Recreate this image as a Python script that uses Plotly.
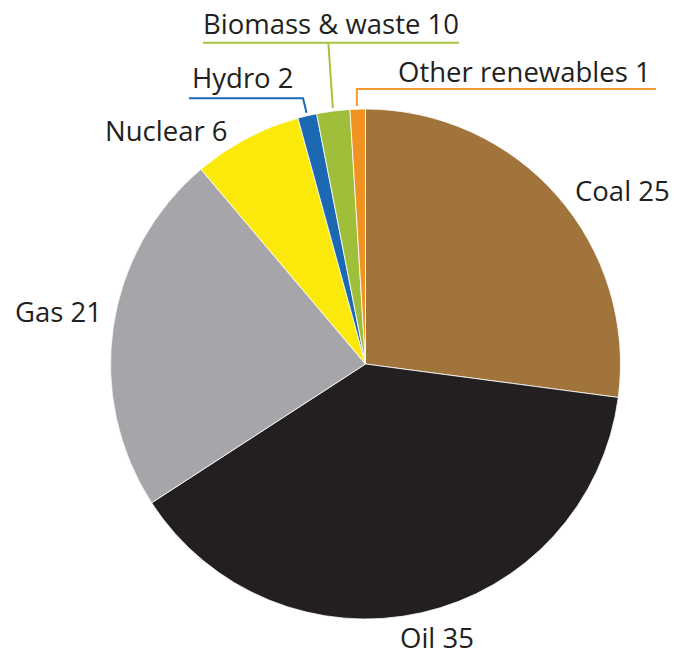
import math
import plotly.graph_objects as go

# ---- data ----
categories = ["Coal", "Oil", "Gas", "Nuclear", "Hydro", "Biomass & waste", "Other renewables"]
label_values = [25, 35, 21, 6, 2, 10, 1]
shares = [27.1, 38.75, 23.0, 6.9, 1.2, 2.1, 0.97]
colors = ["#A1743B", "#231F20", "#A6A5A9", "#FBE90B", "#1C68B2", "#9FBF3B", "#F19322"]
line_colors = ["#A1743B", "#231F20", "#A6A5A9", "#FBE90B", "#1C68B2", "#A3C43E", "#F39A2A"]

W, H = 675, 655
CX, CY, R = 365.5, 364.0, 255.0
FONT = dict(family="Open Sans", size=27.5, color="#231F20")


def px(x, y):
    return x / W, 1 - y / H


fig = go.Figure(go.Pie(
    labels=categories,
    values=shares,
    sort=False,
    direction="clockwise",
    rotation=0,
    textinfo="none",
    hoverinfo="label+value",
    marker=dict(colors=colors, line=dict(color="white", width=0.8)),
    domain=dict(x=[(CX - R) / W, (CX + R) / W], y=[1 - (CY + R) / H, 1 - (CY - R) / H]),
    showlegend=False,
))

# slice mid angles derived from data (clockwise from 12 o'clock)
total = sum(shares)
mids = []
cum = 0.0
for v in shares:
    mids.append((cum + v / 2) / total * 360.0)
    cum += v


def edge_point(i, extra=3.0):
    a = math.radians(mids[i])
    return CX + (R + extra) * math.sin(a), CY - (R + extra) * math.cos(a)


# label layout (pixel anchors: left x, vertical middle y)
label_pos = {
    "Coal": (574, 190),
    "Oil": (399, 637),
    "Gas": (14, 311),
    "Nuclear": (104, 131),
    "Hydro": (190.5, 77),
    "Biomass & waste": (201.5, 24),
    "Other renewables": (397, 71.5),
}

annotations = []
for name, val in zip(categories, label_values):
    x, y = label_pos[name]
    xp, yp = px(x, y)
    annotations.append(dict(
        x=xp, y=yp, xref="paper", yref="paper", xanchor="left", yanchor="middle",
        text=f"{name} {val}", showarrow=False, font=FONT, borderpad=0,
    ))


def path(points):
    s = ""
    for k, (x, y) in enumerate(points):
        xp, yp = px(x, y)
        s += ("M" if k == 0 else " L") + f" {xp:.5f},{yp:.5f}"
    return s


shapes = []
# Hydro leader
i = categories.index("Hydro")
ex, ey = edge_point(i)
shapes.append(dict(type="path", xref="paper", yref="paper",
                   path=path([(ex, ey), (ex - 3.5, 98.3), (189, 98.3)]),
                   line=dict(color=line_colors[i], width=2)))
# Biomass leader
i = categories.index("Biomass & waste")
ex, ey = edge_point(i)
shapes.append(dict(type="path", xref="paper", yref="paper",
                   path=path([(ex, ey), (ex - 4.5, 42.7)]),
                   line=dict(color=line_colors[i], width=2)))
shapes.append(dict(type="path", xref="paper", yref="paper",
                   path=path([(203, 42.7), (459, 42.7)]),
                   line=dict(color=line_colors[i], width=2)))
# Other renewables leader
i = categories.index("Other renewables")
ex, ey = edge_point(i)
shapes.append(dict(type="path", xref="paper", yref="paper",
                   path=path([(ex - 0.8, ey), (ex - 0.8, 89), (656, 89)]),
                   line=dict(color=line_colors[i], width=2)))

fig.update_layout(
    width=W, height=H,
    margin=dict(l=0, r=0, t=0, b=0),
    paper_bgcolor="white", plot_bgcolor="white",
    annotations=annotations, shapes=shapes,
)

fig.write_html(
    "out.html",
    config={"displayModeBar": False},
    post_script="document.body.style.margin='0';document.body.style.overflow='hidden';",
)
